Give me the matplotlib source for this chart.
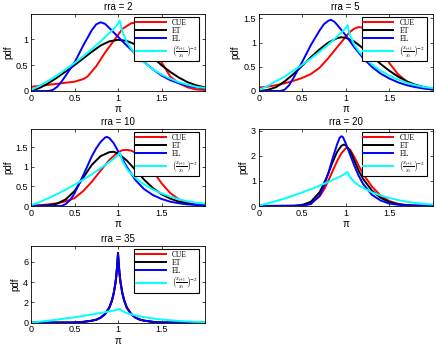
import matplotlib
matplotlib.use("Agg")
import matplotlib.pyplot as plt

plt.rcParams['font.family'] = ['Liberation Sans', 'DejaVu Sans']
plt.rcParams['mathtext.fontset'] = 'stix'

# ---------- data ----------
# (S_{t+1}/S_t)^-2 density, same in every panel
cyan_x = [0, 0.1, 0.2, 0.3, 0.4, 0.5, 0.6, 0.7, 0.8, 0.9, 0.95, 1.0, 1.02, 1.05, 1.1, 1.15,
          1.2, 1.3, 1.4, 1.5, 1.6, 1.7, 1.8, 1.9, 2.0]
cyan_y = [0.02, 0.1, 0.2, 0.3, 0.42, 0.54, 0.67, 0.81, 0.96, 1.12, 1.2, 1.3, 1.36, 1.15, 0.95, 0.82,
          0.72, 0.55, 0.42, 0.32, 0.24, 0.17, 0.12, 0.08, 0.06]

# rra = 2
cue2_x = [0, 0.1, 0.2, 0.3, 0.4, 0.5, 0.6, 0.65, 0.75, 0.85, 0.95, 1.05, 1.15, 1.2, 1.25, 1.3,
          1.4, 1.5, 1.6, 1.7, 1.8, 1.9, 2.0]
cue2_y = [0.08, 0.1, 0.12, 0.14, 0.16, 0.18, 0.23, 0.28, 0.48, 0.74, 0.97, 1.2, 1.31, 1.32, 1.29, 1.2,
          0.93, 0.56, 0.28, 0.15, 0.07, 0.03, 0.02]
et2_x = [0, 0.1, 0.2, 0.3, 0.4, 0.5, 0.6, 0.7, 0.8, 0.9, 1.0, 1.1, 1.2, 1.3, 1.4, 1.5, 1.6,
         1.7, 1.8, 1.9, 2.0]
et2_y = [0.0, 0.06, 0.15, 0.26, 0.38, 0.5, 0.63, 0.76, 0.88, 0.96, 0.99, 0.97, 0.9, 0.79, 0.65, 0.5, 0.37,
         0.26, 0.17, 0.11, 0.07]
el2_x = [0, 0.2, 0.25, 0.3, 0.35, 0.4, 0.5, 0.6, 0.7, 0.75, 0.8, 0.85, 0.9, 1.0, 1.1, 1.2, 1.3,
         1.4, 1.5, 1.6, 1.7, 1.8, 1.9, 2.0]
el2_y = [0, 0, 0.02, 0.08, 0.18, 0.3, 0.55, 0.88, 1.18, 1.29, 1.33, 1.3, 1.22, 1.05, 0.88, 0.72, 0.56,
         0.42, 0.3, 0.21, 0.15, 0.1, 0.07, 0.05]

# rra = 5
cue5_x = [0, 0.1, 0.2, 0.3, 0.4, 0.5, 0.6, 0.7, 0.8, 0.9, 1.0, 1.05, 1.1, 1.15, 1.2, 1.25, 1.3,
          1.35, 1.4, 1.5, 1.6, 1.7, 1.8, 1.9, 2.0]
cue5_y = [0.07, 0.09, 0.12, 0.16, 0.21, 0.27, 0.35, 0.48, 0.68, 0.9, 1.12, 1.22, 1.29, 1.32, 1.31, 1.27, 1.18,
          1.05, 0.9, 0.58, 0.35, 0.2, 0.11, 0.06, 0.03]
et5_x = [0, 0.1, 0.2, 0.3, 0.4, 0.5, 0.6, 0.7, 0.8, 0.9, 0.95, 1.0, 1.1, 1.2, 1.3, 1.4, 1.5,
         1.6, 1.7, 1.8, 1.9, 2.0]
et5_y = [0, 0.02, 0.08, 0.2, 0.35, 0.52, 0.7, 0.86, 1.0, 1.09, 1.11, 1.1, 1.02, 0.88, 0.72, 0.56, 0.42,
         0.3, 0.2, 0.13, 0.08, 0.05]
el5_x = [0, 0.25, 0.3, 0.35, 0.4, 0.5, 0.6, 0.7, 0.75, 0.8, 0.83, 0.87, 0.9, 1.0, 1.1, 1.2, 1.3,
         1.4, 1.5, 1.6, 1.7, 1.8, 1.9, 2.0]
el5_y = [0, 0, 0.03, 0.12, 0.27, 0.6, 0.95, 1.25, 1.38, 1.45, 1.47, 1.43, 1.37, 1.15, 0.9, 0.68, 0.5,
         0.36, 0.26, 0.18, 0.12, 0.08, 0.05, 0.03]

# rra = 10
cue10_x = [0, 0.1, 0.2, 0.3, 0.4, 0.5, 0.6, 0.7, 0.8, 0.9, 1.0, 1.05, 1.1, 1.15, 1.2, 1.3, 1.4,
           1.5, 1.6, 1.7, 1.8, 1.9, 2.0]
cue10_y = [0, 0.02, 0.04, 0.07, 0.12, 0.2, 0.38, 0.62, 0.9, 1.17, 1.37, 1.42, 1.43, 1.41, 1.36, 1.18, 0.9,
           0.58, 0.33, 0.17, 0.08, 0.04, 0.02]
et10_x = [0, 0.2, 0.3, 0.4, 0.5, 0.6, 0.7, 0.8, 0.9, 0.95, 1.0, 1.1, 1.2, 1.3, 1.4, 1.5, 1.6,
          1.7, 1.8, 1.9, 2.0]
et10_y = [0, 0.02, 0.06, 0.17, 0.38, 0.72, 1.05, 1.27, 1.37, 1.38, 1.34, 1.16, 0.92, 0.67, 0.46, 0.3, 0.19,
          0.11, 0.06, 0.03, 0.02]
el10_x = [0, 0.35, 0.4, 0.45, 0.5, 0.6, 0.7, 0.75, 0.8, 0.85, 0.87, 0.9, 0.95, 1.0, 1.1, 1.2, 1.3,
          1.4, 1.5, 1.6, 1.7, 1.8, 1.9, 2.0]
el10_y = [0, 0, 0.05, 0.15, 0.32, 0.78, 1.27, 1.47, 1.63, 1.74, 1.76, 1.73, 1.6, 1.4, 1.0, 0.66, 0.43,
          0.28, 0.18, 0.11, 0.07, 0.04, 0.03, 0.02]

# rra = 20
cue20_x = [0, 0.4, 0.5, 0.6, 0.7, 0.75, 0.8, 0.85, 0.9, 0.95, 1.0, 1.02, 1.05, 1.1, 1.15, 1.2,
           1.3, 1.4, 1.5, 1.6, 1.7, 1.8, 2.0]
cue20_y = [0, 0, 0.02, 0.1, 0.38, 0.65, 1.0, 1.4, 1.78, 2.1, 2.3, 2.32, 2.25, 1.95, 1.6, 1.28,
           0.78, 0.42, 0.2, 0.09, 0.04, 0.02, 0]
et20_x = [0, 0.4, 0.5, 0.6, 0.7, 0.75, 0.8, 0.85, 0.9, 0.95, 0.98, 1.0, 1.05, 1.1, 1.15, 1.2,
          1.3, 1.4, 1.5, 1.6, 1.7, 1.8, 2.0]
et20_y = [0, 0.01, 0.04, 0.17, 0.55, 0.9, 1.3, 1.75, 2.15, 2.4, 2.45, 2.42, 2.2, 1.8, 1.4, 1.08,
          0.62, 0.33, 0.16, 0.07, 0.03, 0.01, 0]
el20_x = [0, 0.5, 0.6, 0.7, 0.75, 0.8, 0.85, 0.9, 0.93, 0.95, 0.97, 1.0, 1.05, 1.1, 1.15, 1.2,
          1.3, 1.4, 1.5, 1.6, 1.7, 2.0]
el20_y = [0, 0.01, 0.08, 0.42, 0.8, 1.3, 1.9, 2.45, 2.72, 2.78, 2.74, 2.5, 2.05, 1.6, 1.2, 0.88,
          0.45, 0.22, 0.1, 0.05, 0.02, 0]

# rra = 35
peak35_x = [0, 0.5, 0.6, 0.7, 0.75, 0.8, 0.85, 0.9, 0.93, 0.95, 0.97, 0.98, 0.99, 1.0, 1.01, 1.02,
            1.03, 1.05, 1.07, 1.1, 1.15, 1.2, 1.25, 1.3, 1.4, 1.5, 2.0]
cue35_y = [0, 0.02, 0.08, 0.19, 0.29, 0.48, 0.82, 1.45, 2.1, 2.8, 3.8, 4.5, 5.5, 6.75, 5.7, 4.7,
           4.0, 3.0, 2.3, 1.55, 0.9, 0.52, 0.32, 0.21, 0.09, 0.02, 0]
et35_y = [0, 0.02, 0.08, 0.2, 0.3, 0.5, 0.85, 1.5, 2.2, 2.9, 3.9, 4.6, 5.6, 6.85, 5.6, 4.6,
          3.9, 2.9, 2.2, 1.5, 0.85, 0.5, 0.3, 0.2, 0.08, 0.02, 0]
el35_y = [0, 0.02, 0.08, 0.2, 0.3, 0.5, 0.85, 1.5, 2.2, 2.9, 3.9, 4.6, 5.6, 6.9, 5.6, 4.6,
          3.9, 2.9, 2.2, 1.5, 0.85, 0.5, 0.3, 0.2, 0.08, 0.02, 0]

titles = ['rra = 2', 'rra = 5', 'rra = 10', 'rra = 20', 'rra = 35']
ylims = [1.49, 1.59, 1.96, 3.07, 7.6]
yticks = [[0, 0.5, 1], [0, 0.5, 1, 1.5], [0, 0.5, 1, 1.5], [0, 1, 2, 3], [0, 2, 4, 6]]
yticklabels = [['0', '0.5', '1'], ['0', '0.5', '1', '1.5'], ['0', '0.5', '1', '1.5'],
               ['0', '1', '2', '3'], ['0', '2', '4', '6']]
xticks = [0, 0.5, 1, 1.5]
xticklabels = ['0', '0.5', '1', '1.5']
labels = ['CUE', 'ET', 'EL', r'$\left(\frac{S_{t+1}}{S_t}\right)^{-2}$']

curves = [
    [(cue2_x, cue2_y), (et2_x, et2_y), (el2_x, el2_y)],
    [(cue5_x, cue5_y), (et5_x, et5_y), (el5_x, el5_y)],
    [(cue10_x, cue10_y), (et10_x, et10_y), (el10_x, el10_y)],
    [(cue20_x, cue20_y), (et20_x, et20_y), (el20_x, el20_y)],
    [(peak35_x, cue35_y), (peak35_x, et35_y), (peak35_x, el35_y)],
]
colors = ['#ff0000', '#000000', '#0000ff', '#00ffff']

# axes positions in figure fractions (436x349 px)
W, H = 436, 349
lefts = [31, 258.7, 31, 258.7, 31]
tops = [14, 14, 129, 129, 245.7]
aw, ah = 174, 77

fig = plt.figure(figsize=(W / 100, H / 100), dpi=100)
for i in range(5):
    ax = fig.add_axes([lefts[i] / W, 1 - (tops[i] + ah) / H, aw / W, ah / H])
    for (x, y), c, lab in zip(curves[i], colors, labels):
        ax.plot(x, y, color=c, lw=1.4, label=lab)
    ax.plot(cyan_x, cyan_y, color=colors[3], lw=1.4, label=labels[3])
    ax.set_xlim(0, 2)
    ax.set_ylim(0, ylims[i])
    ax.set_xticks(xticks)
    ax.set_xticklabels(xticklabels)
    ax.set_yticks(yticks[i])
    ax.set_yticklabels(yticklabels[i])
    ax.tick_params(direction='in', top=True, right=True, length=2.5, width=0.5,
                   labelsize=6.5, pad=2)
    for s in ax.spines.values():
        s.set_linewidth(0.6)
    ax.set_title(titles[i], fontsize=7, pad=3)
    ax.set_xlabel('π', fontsize=7, labelpad=1)
    ax.set_ylabel('pdf', fontsize=7, labelpad=2)
    leg = ax.legend(loc='upper right', bbox_to_anchor=(0.967, 0.957), borderaxespad=0,
                    prop={'family': 'Liberation Serif', 'size': 5.5}, handlelength=3.9,
                    handletextpad=0.8, labelspacing=0.0, borderpad=0.2,
                    fancybox=False, framealpha=1)
    leg.get_frame().set_edgecolor('black')
    leg.get_frame().set_linewidth(0.8)

fig.savefig('out.png', dpi=100)
